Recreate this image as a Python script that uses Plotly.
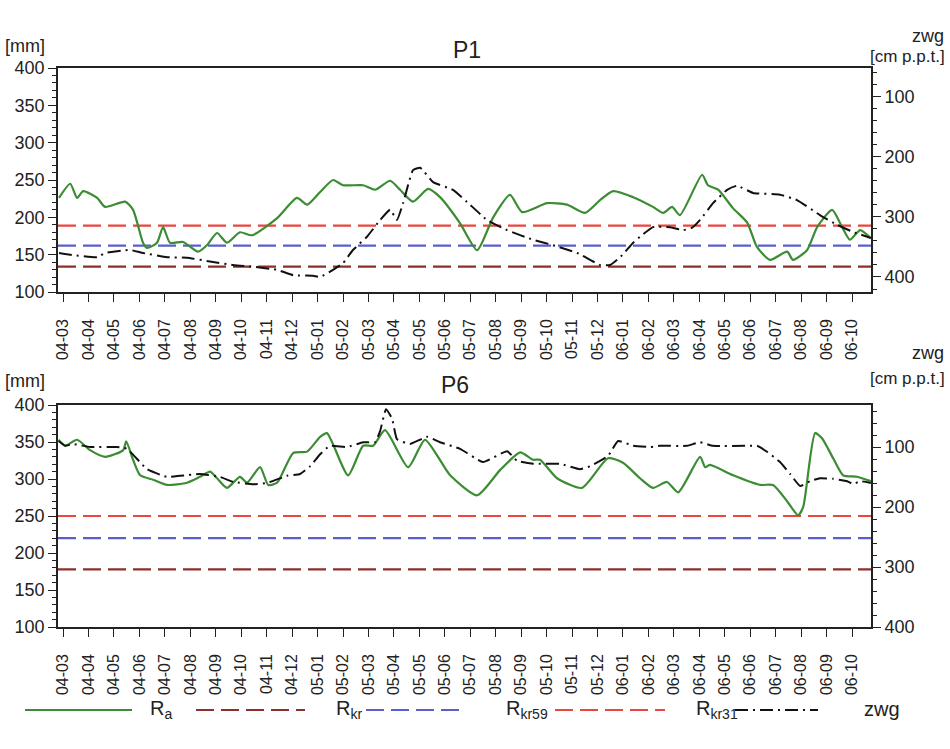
import plotly.graph_objects as go

# ---------------- data ----------------
month_labels = ["04-03","04-04","04-05","04-06","04-07","04-08","04-09","04-10","04-11","04-12",
                "05-01","05-02","05-03","05-04","05-05","05-06","05-07","05-08","05-09","05-10","05-11","05-12",
                "06-01","06-02","06-03","06-04","06-05","06-06","06-07","06-08","06-09","06-10"]

# P1  (x = months since 2004-03, fractional)
p1_ra_t = [-0.16,0.28,0.55,0.79,1.34,1.65,2.44,2.75,3.14,3.30,3.69,3.93,4.20,4.72,5.30,5.66,6.05,6.44,6.95,7.42,
           8.41,9.19,9.59,10.10,10.61,11.00,11.79,12.26,12.85,13.24,13.75,14.34,14.81,15.60,16.27,16.90,17.56,18.04,
           19.02,19.80,20.51,21.10,21.61,22.40,23.18,23.58,23.93,24.24,25.11,25.34,25.74,26.33,26.88,27.27,27.78,
           28.45,28.68,29.23,29.63,30.22,30.61,30.92,31.32,31.74]
p1_ra = [226,245,226,235,226,214,221,210,166,159,166,187,166,167,154,163,179,166,180,176,
         199,226,217,234,250,243,243,237,249,237,221,238,227,192,156,200,230,207,
         219,217,206,223,235,227,214,206,214,203,257,243,237,212,193,160,143,
         154,143,156,187,210,187,170,183,172]

p1_zwg_t = [-0.16,0.28,1.34,1.65,2.63,3.14,4.09,4.87,5.89,6.68,7.47,8.41,9.04,9.82,10.10,10.61,11.00,11.39,11.94,
            12.46,12.85,13.12,13.36,13.75,14.03,14.54,15.32,15.87,16.66,17.45,18.47,19.25,20.20,21.10,21.49,21.89,
            22.40,22.67,23.18,23.85,24.36,24.72,25.03,25.54,26.09,26.48,27.11,28.17,28.84,29.74,30.41,31.04,31.74]
p1_zwg = [360,363,367,360,355,360,367,368,375,380,383,388,397,398,400,388,377,355,333,
          305,288,305,277,222,218,242,255,275,305,322,338,347,360,380,380,367,
          343,333,317,317,322,318,305,277,255,248,260,263,272,297,313,325,335]

# P6
p6_ra_t = [-0.18,0.08,0.55,1.06,1.65,2.36,2.48,2.75,3.03,3.54,4.09,4.87,5.38,5.78,6.05,6.44,6.95,7.23,7.74,8.06,8.41,
           9.04,9.59,10.10,10.37,11.20,11.79,12.18,12.65,13.56,14.22,15.21,16.27,17.17,17.96,18.47,18.74,19.41,20.39,
           21.41,22.00,22.67,23.18,23.73,24.17,25.03,25.23,25.42,26.33,27.39,27.90,28.49,28.88,29.08,29.55,29.82,
           30.26,30.65,31.20,31.74]
p6_ra = [353,345,353,339,330,339,351,326,305,299,292,295,303,310,301,288,303,295,316,292,295,
         335,337,357,362,305,345,345,366,316,353,305,278,312,336,326,326,301,288,
         328,322,301,288,296,282,330,316,319,305,292,292,268,251,262,362,355,
         328,305,303,297]

p6_zwg_t = [-0.18,0.08,0.39,1.06,2.12,2.51,3.30,4.09,4.60,5.38,6.17,6.68,7.47,8.02,8.80,9.31,9.71,10.10,10.49,11.16,
            11.79,12.26,12.46,12.69,12.93,13.12,13.63,14.30,14.81,15.60,16.50,17.45,17.84,18.47,19.53,20.31,20.71,
            21.41,21.81,22.40,23.06,23.46,24.52,25.03,25.54,26.88,27.27,27.66,28.17,28.57,28.96,29.35,29.74,30.26,
            30.81,31.04,31.32,31.74]
p6_zwg = [90,98,95,100,100,103,137,150,148,145,150,158,162,160,148,145,132,112,98,100,
          92,92,73,37,53,87,95,83,92,103,125,107,123,128,128,137,132,
          115,90,98,100,98,98,92,98,98,98,108,125,145,165,157,152,153,
          157,162,157,160]

# threshold levels [mm]
p1_rkr, p1_rkr59, p1_rkr31 = 134, 162, 189
p6_rkr, p6_rkr59, p6_rkr31 = 178, 220, 250
t_span = [-0.2, 31.75]

# ---------------- styles ----------------
GREEN = "#3b8c32"
DRED = "#8e2f2c"
BLUE = "#5a5fcc"
RED = "#e8473d"
BLACK = "#111111"
DASH = "18px,7px"
DASHDOT = "13px,5px,2px,5px"
FONT = "Liberation Sans, Arial, sans-serif"

W, H = 950, 749
def px_x(x): return x / W
def px_y(y): return 1 - y / H

fig = go.Figure()

def add_panel(xa, ya, ya2, t_ra, ra, t_z, z, rkr, rkr59, rkr31):
    for lvl, col in [(rkr, DRED), (rkr59, BLUE), (rkr31, RED)]:
        fig.add_trace(go.Scatter(x=t_span, y=[lvl, lvl], mode="lines", xaxis=xa, yaxis=ya,
                                 line=dict(color=col, width=2.2, dash=DASH), showlegend=False, hoverinfo="skip"))
    fig.add_trace(go.Scatter(x=t_ra, y=ra, mode="lines", xaxis=xa, yaxis=ya,
                             line=dict(color=GREEN, width=2.2, shape="spline", smoothing=0.6), showlegend=False))
    fig.add_trace(go.Scatter(x=t_z, y=z, mode="lines", xaxis=xa, yaxis=ya2,
                             line=dict(color=BLACK, width=2, dash=DASHDOT, shape="spline", smoothing=0.4),
                             showlegend=False))

add_panel("x", "y", "y2", p1_ra_t, p1_ra, p1_zwg_t, p1_zwg, p1_rkr, p1_rkr59, p1_rkr31)
add_panel("x2", "y3", "y4", p6_ra_t, p6_ra, p6_zwg_t, p6_zwg, p6_rkr, p6_rkr59, p6_rkr31)

xdom = [px_x(58), px_x(871)]
top_dom = [px_y(292), px_y(68)]
bot_dom = [px_y(627), px_y(405)]

tickfont = dict(family=FONT, size=18, color="#222")
xtickfont = dict(family=FONT, size=16, color="#222")

def xaxis(anchor, dom):
    return dict(domain=xdom, anchor=anchor, range=[-0.2, 31.746],
                tickmode="array", tickvals=list(range(len(month_labels))), ticktext=month_labels,
                tickangle=-90, ticks="outside", ticklen=8, tickwidth=1.4, tickcolor="#222",
                showline=True, linecolor="#222", linewidth=1.6, mirror=True,
                showgrid=False, zeroline=False, tickfont=xtickfont, ticklabelstandoff=11,
                automargin=False)

def yleft(anchor, dom):
    return dict(domain=dom, anchor=anchor, range=[100, 400], tick0=100, dtick=50,
                ticks="outside", ticklen=8, tickwidth=1.4, tickcolor="#222",
                minor=dict(dtick=10, ticklen=4, ticks="outside", tickcolor="#222", tickwidth=1),
                showline=True, linecolor="#222", linewidth=1.6, mirror=True,
                showgrid=False, zeroline=False, tickfont=tickfont, automargin=False)

def yright(anchor, overlay, rng):
    return dict(overlaying=overlay, anchor=anchor, side="right", range=rng, tick0=0, dtick=100,
                ticks="outside", ticklen=8, tickwidth=1.4, tickcolor="#222",
                minor=dict(dtick=20, ticklen=4, ticks="outside", tickcolor="#222", tickwidth=1),
                showline=True, linecolor="#222", linewidth=1.6,
                showgrid=False, zeroline=False, tickfont=tickfont, automargin=False)

fig.update_layout(
    width=W, height=H, margin=dict(l=0, r=0, t=0, b=0),
    paper_bgcolor="white", plot_bgcolor="white", showlegend=False,
    xaxis=xaxis("y", top_dom), yaxis=yleft("x", top_dom), yaxis2=yright("x", "y", [425, 52]),
    xaxis2=xaxis("y3", bot_dom), yaxis3=yleft("x2", bot_dom), yaxis4=yright("x2", "y3", [400, 30]),
)
fig.layout.yaxis4.overlaying = "y3"

def note(text, x, y, size=18, xanchor="center"):
    fig.add_annotation(text=text, x=px_x(x), y=px_y(y), xref="paper", yref="paper",
                       showarrow=False, xanchor=xanchor, yanchor="middle",
                       font=dict(family=FONT, size=size, color="#222"))

note("P1", 467, 50, size=23)
note("P6", 455, 385, size=23)
note("[mm]", 3, 46, xanchor="left")
note("[mm]", 3, 381, xanchor="left")
note("zwg", 946, 36, xanchor="right")
note("[cm p.p.t.]", 947, 56, size=17, xanchor="right")
note("zwg", 946, 353, xanchor="right")
note("[cm p.p.t.]", 947, 379, size=17, xanchor="right")

# manual legend
leg_y = px_y(710)
legend_items = [
    (25, 132, GREEN, "solid", "R<sub>a</sub>", 148),
    (196, 305, DRED, DASH, "R<sub>kr</sub>", 334),
    (366, 466, BLUE, DASH, "R<sub>kr59</sub>", 504),
    (555, 665, RED, DASH, "R<sub>kr31</sub>", 694),
    (735, 818, BLACK, DASHDOT, "zwg", 862),
]
for x0, x1, col, dash, label, tx in legend_items:
    fig.add_shape(type="line", xref="paper", yref="paper", x0=px_x(x0), x1=px_x(x1), y0=leg_y, y1=leg_y,
                  line=dict(color=col, width=2.2, dash=dash))
    fig.add_annotation(text=label, x=px_x(tx), y=px_y(709), xref="paper", yref="paper",
                       showarrow=False, xanchor="left", yanchor="middle",
                       font=dict(family=FONT, size=20, color="#222"))

fig.write_html("out.html")
